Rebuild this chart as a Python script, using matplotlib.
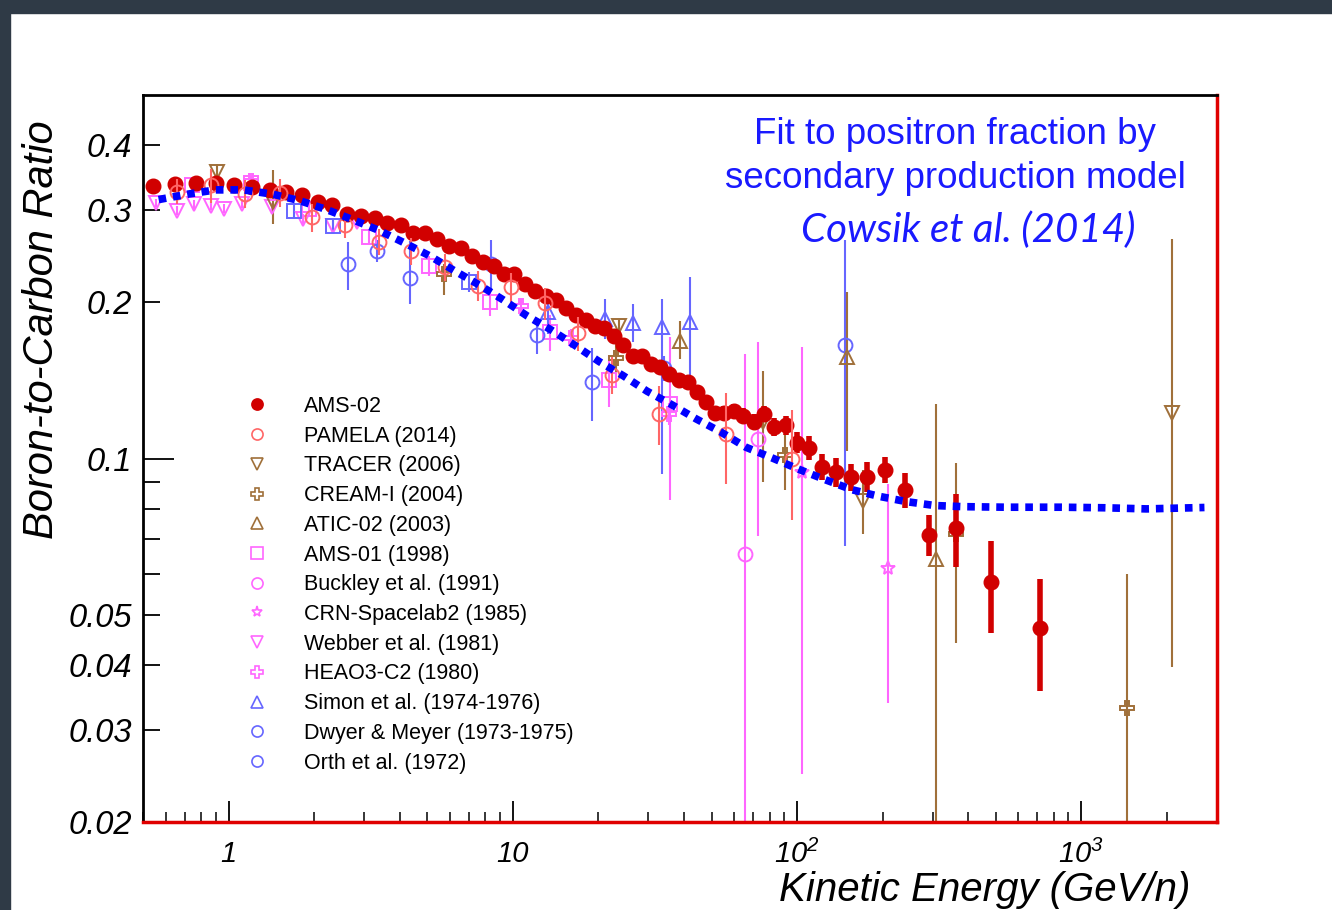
import matplotlib
matplotlib.use("Agg")
from matplotlib import pyplot as plt
from matplotlib.lines import Line2D
from matplotlib.patches import Rectangle
from matplotlib.ticker import FixedLocator, FuncFormatter, NullFormatter

plt.rcParams["font.family"] = ["Liberation Sans", "DejaVu Sans"]
plt.rcParams["mathtext.fontset"] = "custom"
plt.rcParams["mathtext.it"] = "Liberation Sans:italic"
plt.rcParams["mathtext.rm"] = "Liberation Sans:italic"

# ---- AMS-02
ams_e = [0.544, 0.646, 0.766, 0.900, 1.044, 1.211, 1.397, 1.590, 1.809, 2.060,
         2.307, 2.613, 2.926, 3.266, 3.620, 4.031, 4.457, 4.923, 5.412, 5.963,
         6.550, 7.160, 7.826, 8.556, 9.314, 10.11, 11.06, 11.99, 13.10, 14.21,
         15.40, 16.70, 18.07, 19.48, 21.00, 22.72, 24.49, 26.42, 28.42, 30.65,
         33.04, 35.53, 38.34, 41.23, 44.45, 47.93, 51.43, 55.32, 59.82, 64.65,
         70.50, 76.26, 83.10, 91.1, 100.2, 110.2, 122.5, 136.6, 154.5, 176.2,
         204.6, 240.5, 290.5, 363.4, 482.5, 713.0]
ams_r = [0.334, 0.337, 0.338, 0.338, 0.335, 0.333, 0.328, 0.325, 0.321, 0.311,
         0.307, 0.295, 0.293, 0.290, 0.284, 0.281, 0.272, 0.272, 0.264, 0.256,
         0.254, 0.245, 0.239, 0.234, 0.226, 0.226, 0.217, 0.210, 0.205, 0.202,
         0.1945, 0.1889, 0.1847, 0.1801, 0.1780, 0.1718, 0.1656, 0.1577, 0.1573, 0.1520,
         0.1498, 0.1454, 0.1416, 0.1402, 0.1341, 0.1287, 0.1224, 0.1224, 0.1236, 0.1209,
         0.1178, 0.1218, 0.1149, 0.1159, 0.1073, 0.1048, 0.0963, 0.0942, 0.0922, 0.0923,
         0.0952, 0.0870, 0.0713, 0.0736, 0.0578, 0.0472]
ams_err = [0.002] * 44 + [0.003, 0.003, 0.0035, 0.0035, 0.0035, 0.004,
                          0.004, 0.0045, 0.0045, 0.005, 0.005, 0.0055, 0.0055, 0.006, 0.0055, 0.006,
                          0.0056, 0.0068, 0.0064, 0.0117, 0.0117, 0.0115]

# ---- fit (Cowsik et al. 2014)
fit_e = [0.5675, 0.7177, 0.900, 1.129, 1.428, 1.776, 2.210, 2.750, 3.393, 4.153,
         5.126, 6.224, 7.619, 9.254, 11.23, 13.64, 16.57, 20.12, 24.43, 29.67,
         36.32, 44.10, 53.98, 66.09, 82.22, 100.6, 125.2, 155.8, 193.8, 243.1,
         305.0, 382.4, 541.7, 852.0, 1206.0, 1695.0, 2710.0]
fit_r = [0.3147, 0.3223, 0.3285, 0.3285, 0.3223, 0.3133, 0.3011, 0.2876, 0.2743, 0.2598,
         0.2449, 0.2297, 0.2156, 0.2018, 0.1880, 0.1767, 0.1649, 0.1536, 0.1443, 0.1347,
         0.1268, 0.1192, 0.1124, 0.1051, 0.1001, 0.0955, 0.0911, 0.0871, 0.0846, 0.0826,
         0.0812, 0.0808, 0.0806, 0.0806, 0.0804, 0.0800, 0.0805]

# ---- other experiments
pam_e = [0.657, 0.865, 1.138, 1.514, 1.968, 2.562, 3.375, 4.395, 5.787, 7.54,
         9.85, 13.0, 17.02, 22.30, 32.8, 56.2, 95.6]
pam_r = [0.326, 0.335, 0.323, 0.324, 0.291, 0.281, 0.261, 0.251, 0.233, 0.215,
         0.2135, 0.199, 0.174, 0.145, 0.122, 0.1115, 0.100]
pam_err = [0.018, 0.025, 0.02, 0.02, 0.018, 0.016, 0.015, 0.015, 0.014, 0.014,
           0.014, 0.014, 0.013, 0.012, 0.016, 0.022, 0.024]

tracer_e = [0.913, 1.428, 23.71, 76.0, 169.9, 2076.0]
tracer_r = [0.356, 0.312, 0.180, 0.1176, 0.0830, 0.1223]
tracer_lo = [0.012, 0.029, 0.017, 0.0274, 0.0114, 0.0826]
tracer_hi = [0.012, 0.046, 0.005, 0.0300, 0.0120, 0.1425]

cream_e = [5.741, 23.08, 90.6, 363.4, 1445.0]
cream_r = [0.2264, 0.1559, 0.1016, 0.0716, 0.0331]
cream_lo = [0.0206, 0.0136, 0.0148, 0.0274, 0.030]
cream_hi = [0.0103, 0.0139, 0.0141, 0.0265, 0.0269]

atic_e = [38.75, 149.3, 307.4]
atic_r = [0.1685, 0.1567, 0.0641]
atic_lo = [0.0131, 0.0533, 0.060]
atic_hi = [0.0157, 0.0523, 0.0633]

ams01_e = [0.746, 1.195, 1.915, 3.116, 5.064, 8.295, 13.46, 21.87, 35.59]
ams01_r = [0.3359, 0.3388, 0.3020, 0.2668, 0.2346, 0.1998, 0.1750, 0.1418, 0.1271]
ams01_err = [0.008, 0.008, 0.008, 0.008, 0.010, 0.012, 0.014, 0.016, 0.044]

buckley_e = [65.5, 73.0]
buckley_r = [0.0655, 0.1091]
buckley_lo = [0.065, 0.0381]
buckley_hi = [0.0934, 0.0584]

crn_e = [103.7, 208.0]
crn_r = [0.0944, 0.0616]
crn_lo = [0.0697, 0.0277]
crn_hi = [0.0695, 0.0276]

webber_e = [0.554, 0.657, 0.755, 0.869, 0.963, 1.111, 1.424, 1.830, 2.326, 2.833]
webber_r = [0.3101, 0.2996, 0.3081, 0.3064, 0.3020, 0.3088, 0.3040, 0.2889, 0.2804, 0.2847]

heao_e = [1.195, 10.66, 15.97, 35.53]
heao_r = [0.3418, 0.1961, 0.1703, 0.1218]
heao_err = [0.008, 0.007, 0.007, 0.006]

simon_e = [13.27, 21.03, 26.49, 33.41, 42.02]
simon_r = [0.1910, 0.1855, 0.1819, 0.1789, 0.1829]
simon_lo = [0.0174, 0.0157, 0.0143, 0.0855, 0.0468]
simon_hi = [0.0181, 0.0172, 0.0163, 0.0238, 0.0406]

dwyer_e = [2.630, 4.336, 18.97, 147.2]
dwyer_r = [0.2367, 0.2222, 0.1404, 0.1654]
dwyer_lo = [0.0263, 0.0239, 0.0221, 0.0974]
dwyer_hi = [0.0246, 0.0398, 0.0228, 0.0981]

orth_e = [3.331, 8.375, 12.12, 34.04]
orth_r = [0.2511, 0.2367, 0.1725, 0.1491]
orth_err = [0.012, 0.026, 0.0135, 0.008]

other_e = [1.696, 2.333, 6.99]
other_r = [0.2996, 0.2804, 0.2188]

red = "#d10000"
salmon = "#ff6666"
brown = "#a0703a"
pink = "#ff66ff"
violet = "#6666ff"

fig = plt.figure(figsize=(13.32, 9.10), dpi=100)
ax = fig.add_axes([143 / 1332, 88 / 910, 1074 / 1332, 727 / 910])

open_kw = dict(ls="none", mfc="none", mew=1.4, ms=10, elinewidth=1.5, capsize=0)

ax.errorbar(webber_e, webber_r, yerr=0.006, marker="v", color=pink, **open_kw)
ax.errorbar(ams01_e, ams01_r, yerr=ams01_err, marker="s", color=pink, **open_kw)
ax.errorbar(other_e, other_r, yerr=0.01, marker="s", color=violet, **open_kw)
ax.errorbar(heao_e, heao_r, yerr=heao_err, marker="P", color=pink, **open_kw)
ax.errorbar(buckley_e, buckley_r, yerr=[buckley_lo, buckley_hi], marker="o", color=pink, **open_kw)
ax.errorbar(crn_e, crn_r, yerr=[crn_lo, crn_hi], marker="*", color=pink, **open_kw)
ax.errorbar(simon_e, simon_r, yerr=[simon_lo, simon_hi], marker="^", color=violet, **open_kw)
ax.errorbar(dwyer_e, dwyer_r, yerr=[dwyer_lo, dwyer_hi], marker="o", color=violet, **open_kw)
ax.errorbar(orth_e, orth_r, yerr=orth_err, marker="o", color=violet, **open_kw)
ax.errorbar(tracer_e, tracer_r, yerr=[tracer_lo, tracer_hi], marker="v", color=brown, **open_kw)
ax.errorbar(cream_e, cream_r, yerr=[cream_lo, cream_hi], marker="P", color=brown, **open_kw)
ax.errorbar(atic_e, atic_r, yerr=[atic_lo, atic_hi], marker="^", color=brown, **open_kw)
ax.errorbar(ams_e, ams_r, yerr=ams_err, marker="o", ls="none", color=red, ms=10.5,
            elinewidth=4, capsize=0, zorder=4)
ax.errorbar(pam_e, pam_r, yerr=pam_err, marker="o", color=salmon, zorder=4.5, **open_kw)

ax.plot(fit_e, fit_r, color="#0000ff", lw=5.5, ls=(0, (1, 0.9)),
        dash_capstyle="butt", zorder=5)

ax.set_xscale("log")
ax.set_yscale("log")
ax.set_xlim(0.5, 3000)
ax.set_ylim(0.02, 0.5)

# ticks
ax.xaxis.set_major_locator(FixedLocator([1, 10, 100, 1000]))
ax.xaxis.set_major_formatter(FuncFormatter(
    lambda v, p: {1: "1", 10: "10", 100: r"$10^{2}$", 1000: r"$10^{3}$"}.get(int(round(v)), "")))
ax.xaxis.set_minor_locator(FixedLocator(
    [m * d for d in [0.1, 1, 10, 100, 1000] for m in range(2, 10) if 0.5 <= m * d <= 3000]))
ax.xaxis.set_minor_formatter(NullFormatter())

ylabels_shown = [0.02, 0.03, 0.04, 0.05, 0.1, 0.2, 0.3, 0.4]
ax.yaxis.set_major_locator(FixedLocator([0.1]))
ax.yaxis.set_minor_locator(FixedLocator(
    [0.02, 0.03, 0.04, 0.05, 0.06, 0.07, 0.08, 0.09, 0.2, 0.3, 0.4]))
fmt = FuncFormatter(lambda v, p: ("%g" % v) if any(abs(v - s) < 1e-9 for s in ylabels_shown) else "")
ax.yaxis.set_major_formatter(fmt)
ax.yaxis.set_minor_formatter(fmt)

ax.tick_params(axis="x", which="major", direction="in", length=15, width=1.3,
               labelsize=21, pad=13, top=False)
ax.tick_params(axis="x", which="minor", direction="in", length=7.5, width=1.1, top=False)
ax.tick_params(axis="y", which="major", direction="in", length=22, width=1.3,
               labelsize=23.5, pad=8, right=False)
ax.tick_params(axis="y", which="minor", direction="in", length=12, width=1.3,
               labelsize=23.5, pad=8, right=False)
for lab in ax.get_xticklabels() + ax.get_yticklabels(which="both"):
    lab.set_fontstyle("italic")

for s in ["top", "left"]:
    ax.spines[s].set_linewidth(2)
    ax.spines[s].set_color("black")
for s in ["bottom", "right"]:
    ax.spines[s].set_linewidth(2.5)
    ax.spines[s].set_color("#e00000")

ax.set_ylabel("Boron-to-Carbon Ratio", fontsize=30, fontstyle="italic", va="center")
ax.yaxis.set_label_coords(-0.094, 0.677)
ax.set_xlabel("Kinetic Energy (GeV/n)", fontsize=29, fontstyle="italic",
              family=["Liberation Sans Narrow", "Liberation Sans"], ha="right", va="center")
ax.xaxis.set_label_coords(0.975, -0.093)

fig.text(955 / 1332, 1 - 135 / 910, "Fit to positron fraction by", color="#1a1aff",
         fontsize=26.5, ha="center", va="center")
fig.text(955 / 1332, 1 - 178 / 910, "secondary production model", color="#1a1aff",
         fontsize=26.5, ha="center", va="center")
fig.text(968 / 1332, 1 - 230 / 910, "Cowsik et al. (2014)", color="#1a1aff",
         fontsize=29, ha="center", va="center", fontstyle="italic",
         family=["Lato", "Open Sans", "DejaVu Sans"])

# legend
labels = ["AMS-02", "PAMELA (2014)", "TRACER (2006)", "CREAM-I (2004)", "ATIC-02 (2003)",
          "AMS-01 (1998)", "Buckley et al. (1991)", "CRN-Spacelab2 (1985)",
          "Webber et al. (1981)", "HEAO3-C2 (1980)", "Simon et al. (1974-1976)",
          "Dwyer & Meyer (1973-1975)", "Orth et al. (1972)"]
markers = ["o", "o", "v", "P", "^", "s", "o", "*", "v", "P", "^", "o", "o"]
colors = [red, salmon, brown, brown, brown, pink, pink, pink, pink, pink, violet, violet, violet]
handles = []
for lab, m, c in zip(labels, markers, colors):
    filled = lab == "AMS-02"
    handles.append(Line2D([], [], ls="none", marker=m, color=c,
                          mfc=c if filled else "none", ms=8, mew=1.2))
ax.legend(handles, labels, loc="upper left", bbox_to_anchor=(246 / 1332, 1 - 396 / 910),
          bbox_transform=fig.transFigure, frameon=False, fontsize=15.5,
          handlelength=1.0, handletextpad=1.7, labelspacing=0.405, borderpad=0,
          borderaxespad=0)

# slide frame
fig.add_artist(Rectangle((0, 1 - 13 / 910), 1, 13 / 910, transform=fig.transFigure,
                         color="#2f3a46", zorder=10))
fig.add_artist(Rectangle((0, 0), 10 / 1332, 1, transform=fig.transFigure,
                         color="#2f3a46", zorder=10))

fig.savefig("out.png", dpi=100)
